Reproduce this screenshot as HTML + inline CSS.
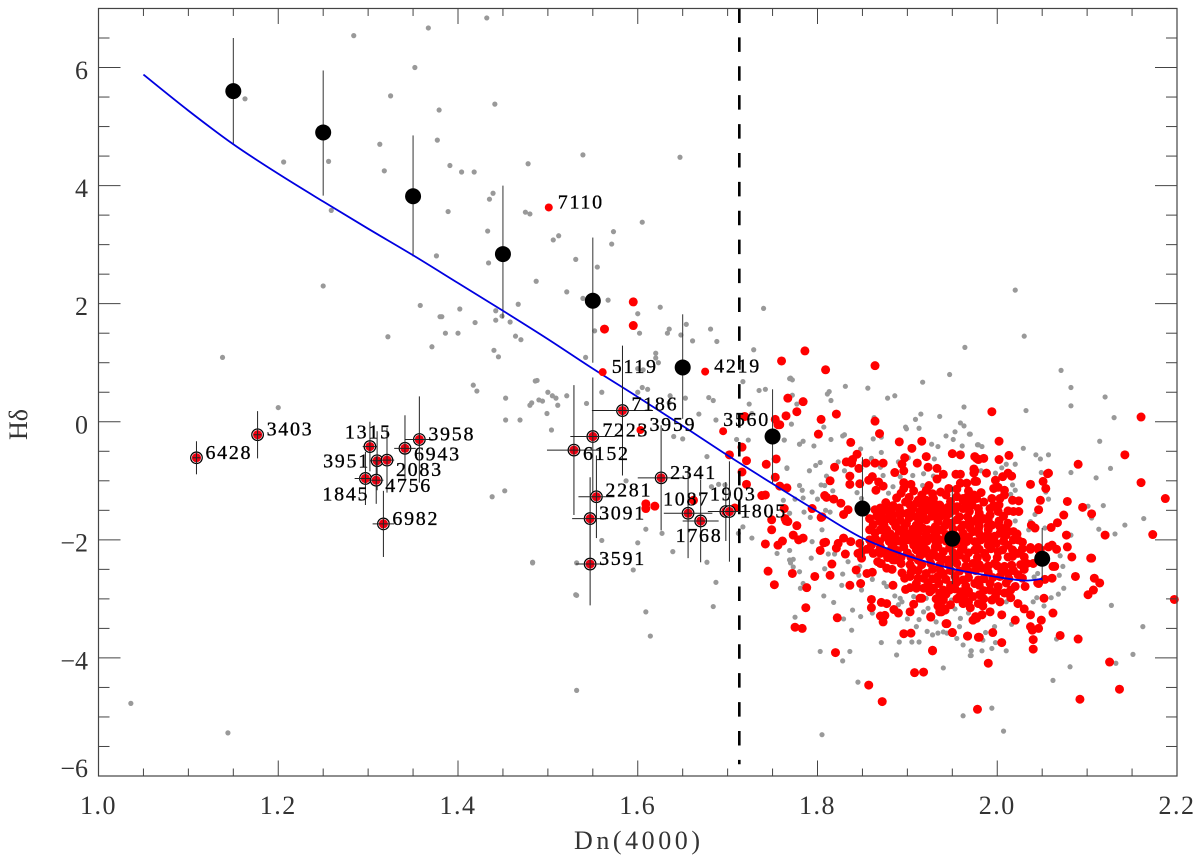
<!DOCTYPE html>
<html lang="en">
<head>
<meta charset="utf-8">
<title>H-delta versus Dn(4000)</title>
<style>
html,body{margin:0;padding:0;background:#fff;}
#chart{display:block;width:1200px;height:858px;}
text{font-family:"Liberation Serif","DejaVu Serif",serif;}
</style>
</head>
<body>
<svg id="chart" xmlns="http://www.w3.org/2000/svg" width="1200" height="858" viewBox="0 0 1200 858">
<rect x="0" y="0" width="1200" height="858" fill="#fff"/>
<g id="gray-layer"></g>
<g id="red-layer"></g>
<g id="bin-layer"></g>
<g id="curve-layer"></g>
<g id="cut-layer"></g>
<g id="galaxy-layer"></g>
<g id="axis-layer"></g>
<text x="574" y="849" font-size="26" fill="#333" textLength="126" lengthAdjust="spacing">Dn(4000)</text>
<text transform="translate(27,440) rotate(-90)" font-size="26" fill="#333">Hδ</text>
</svg>
<script>
// Chart data
const xTickLabels = ["1.0","1.2","1.4","1.6","1.8","2.0","2.2"];
const xTickValues = [1.0,1.2,1.4,1.6,1.8,2.0,2.2];
const yTickLabels = ["−6","−4","−2","0","2","4","6"];
const yTickValues = [-6,-4,-2,0,2,4,6];
const dnCut = [1.713];

const curveDn = [1.05,1.1,1.15,1.2,1.25,1.3,1.35,1.4,1.45,1.5,1.55,1.6,1.65,1.7,1.75,1.8,1.85,1.9,1.95,2.0,2.03,2.05];
const curveHd = [5.88,5.27,4.70,4.20,3.73,3.27,2.82,2.35,1.88,1.40,0.90,0.42,-0.07,-0.57,-1.05,-1.52,-1.97,-2.27,-2.49,-2.63,-2.69,-2.66];

const binDn = [1.15,1.25,1.35,1.45,1.55,1.65,1.75,1.85,1.95,2.05];
const binHd = [5.6,4.9,3.82,2.84,2.05,0.92,-0.25,-1.47,-1.98,-2.32];
const binHi = [6.5,5.95,4.85,4.0,3.12,1.82,0.55,-0.6,-1.1,-1.8];
const binLo = [4.7,3.83,2.8,1.75,1.0,0.05,-1.05,-2.3,-2.75,-2.7];

const galaxyIds = ["6428","3403","1315","3951","2083","6943","3958","1845","4756","6982","7186","7223","6152","2281","3091","3591","2341","1087","1768","1903","1805"];
const galaxyDn = [1.109,1.177,1.302,1.31,1.321,1.341,1.357,1.297,1.309,1.317,1.583,1.55,1.529,1.554,1.547,1.547,1.626,1.656,1.67,1.698,1.702];
const galaxyHd = [-0.61,-0.22,-0.42,-0.66,-0.65,-0.45,-0.30,-0.96,-0.99,-1.73,0.19,-0.25,-0.48,-1.27,-1.64,-2.41,-0.95,-1.55,-1.68,-1.52,-1.52];
const galaxyDnErr = [0.004,0.004,0.008,0.008,0.008,0.012,0.016,0.012,0.008,0.012,0.034,0.025,0.03,0.02,0.02,0.016,0.026,0.027,0.02,0.02,0.023];
const galaxyHdErr = [0.28,0.4,0.42,0.5,0.55,0.56,0.73,0.45,0.4,0.56,1.1,1.0,1.1,0.7,0.7,0.7,0.89,0.76,0.7,0.5,0.85];

const plainIds = ["5119","4219","3959","3560","7110"];
const plainDn = [1.561,1.675,1.603,1.695,1.501];
const plainHd = [0.84,0.85,-0.14,-0.16,3.63];

const grayPoints = [[1.163,5.47],[1.206,4.40],[1.256,4.41],[1.259,3.58],[1.25,2.30],[1.284,6.54],[1.325,5.52],[1.313,4.70],[1.318,4.25],[1.352,6.0],[1.367,6.67],[1.379,5.28],[1.377,4.77],[1.376,2.81],[1.358,1.97],[1.322,1.44],[1.38,1.78],[1.138,1.09],[1.2,0.24],
[1.391,4.34],[1.404,4.23],[1.418,4.23],[1.441,5.38],[1.478,4.37],[1.432,6.84],[1.539,4.52],[1.647,4.48],[1.439,3.87],[1.435,3.77],[1.389,3.56],[1.475,3.55],[1.48,3.52],[1.433,3.23],[1.506,3.08],[1.512,3.15],[1.573,3.22],[1.571,3.01],[1.605,3.38],[1.531,2.75],[1.555,2.62],[1.434,2.69],[1.487,2.38],[1.521,2.2],[1.539,2.09],[1.567,2.06],[1.625,1.94],[1.467,1.99],[1.402,1.91],[1.382,1.78],[1.442,1.88],[1.442,1.72],[1.449,1.79],[1.419,1.68],[1.458,1.69],[1.4,1.5],[1.6,1.83],[1.602,1.5],[1.552,1.54],[1.635,1.57],[1.633,1.5],[1.654,1.65],[1.648,1.47],[1.681,1.57],[1.74,1.92],
[1.386,1.5],[1.371,1.27],[1.464,1.45],[1.47,1.39],[1.44,1.21],[1.445,1.1],[1.417,0.62],[1.421,0.52],[1.486,0.69],[1.453,0.4],[1.469,0.03],[1.48,0.28],[1.49,0.37],[1.509,0.4],[1.453,0.03],[1.511,0.28],[1.5,0.5],[1.438,-1.27],[1.452,-1.17],[1.483,-2.38],[1.532,-4.55],[1.609,-3.22],[1.614,-3.63],[1.532,-2.94],
[1.488,0.7],[1.482,0.32],[1.494,0.35],[1.505,0.44],[1.521,0.44],[1.499,0.14],[1.504,-0.14],[1.543,0.31],[1.542,1.09],[1.56,0.5],[1.62,1.16],[1.623,1.0],[1.62,1.08],[1.606,0.88],[1.6,0.9],[1.605,0.58],[1.611,0.55],[1.6,0.5],[1.636,0.44],[1.653,0.4],[1.635,0.32],[1.679,0.41],[1.684,0.36],[1.668,0.13],[1.64,-0.25],[1.65,-0.29],[1.687,0.03],[1.661,1.37],[1.688,1.36],[1.729,1.22],[1.735,0.53],[1.742,0.55],[1.717,0.68],[1.724,0.3],[1.727,0.14],[1.71,-0.3],[1.723,-0.31],[1.763,-0.31],[1.78,-0.38],[1.766,-0.78],[1.77,0.74],[1.677,-0.59],[1.682,-1.1],[1.69,-1.06],[1.697,-1.07],[1.587,-1.0],[1.627,-1.89],[1.712,-1.89],[1.717,-1.78],[1.727,-1.97],[1.609,-1.82],[1.6,-2.05],[1.56,-2.01],[1.532,-2.39],[1.483,-2.39],[1.595,-2.51],[1.639,-2.2],[1.677,-2.38],[1.687,-2.72],[1.769,-2.34],[1.755,-2.23],[1.77,-2.39],[1.531,-2.93],[1.684,-3.13],
[1.036,-4.77],[1.144,-5.27],[1.805,-5.3],[2.02,2.23],[2.03,1.45],[2.071,0.87],[2.082,0.58],[2.082,0.27],[2.12,0.42],[2.13,0.07],[2.032,0.19],[2.114,-0.33],[2.029,-0.45],[2.043,-0.56],[2.048,-0.63],[2.057,-0.56],[2.126,-0.79],[2.082,-0.86],[2.11,-0.95],[2.118,-1.42],[2.101,-1.43],[2.105,-1.63],[2.163,-1.64],[2.142,-1.75],[2.113,-1.82],[2.131,-1.9],[2.082,-1.92],[2.127,-3.11],[2.162,-3.47],[2.151,-3.94],[2.132,-4.09],[2.081,-4.15],[2.062,-4.38],[1.994,-4.85],[2.007,-5.24],
[2.07,-2.27],[2.073,-2.45],[2.069,-2.6],[2.074,-2.82],[2.068,-2.92],[2.06,-2.98],[2.052,-3.12],[2.044,-2.98],[2.04,-3.05],[2.041,-2.63],[2.045,-2.57],[2.066,-3.68],[2.053,-1.8],[2.035,-1.83],[2.037,-1.69],[2.042,-1.57],[2.057,-1.31],[2.054,-1.19],[2.049,-0.86],[2.02,-0.72],[2.02,-1.16],[2.017,-1.07],[2.015,-1.23],[2.02,-1.68],[1.979,-0.39],[1.983,-0.42],[1.97,-0.21],[2.01,-0.72],[2.005,-0.78],[1.998,-0.87],[1.982,-0.83],[2.01,-3.05],[2.016,-3.43],[1.997,-3.47],[1.987,-3.57],[1.984,-3.7],[1.998,-3.74],[1.994,-3.84],[1.983,-3.88],[1.971,-3.88],[1.971,-3.96],[2.01,-3.88],
[1.964,1.26],[1.947,0.8],[1.917,0.67],[1.831,0.6],[1.856,0.57],[1.769,0.73],[1.772,0.71],[1.772,0.45],[1.813,0.51],[1.811,0.47],[1.815,0.36],[1.878,0.4],[1.886,0.44],[1.963,0.25],[1.915,0.13],[1.909,0.04],[1.936,0.09],[1.959,-0.02],[1.963,-0.07],[1.898,-0.09],[1.899,-0.12],[1.913,-0.11],[1.953,-0.17],[1.969,-0.21],[1.943,-0.24],[1.951,-0.3],[1.863,0.07],[1.871,-0.26],[1.862,-0.29],[1.828,-0.24],[1.83,-0.22],[1.807,-0.09],[1.815,-0.3],[1.771,-0.04],[1.777,0.3],[1.763,-0.31],[1.78,-0.38],[1.784,-0.33],[1.796,-0.41],[1.848,-0.46],[1.871,-0.52],[1.927,-0.38],[1.934,-0.42],[1.961,-0.41],[1.978,-0.39],[1.93,-0.63],[1.89,-0.68],[1.901,-0.61],[1.86,-0.62],[1.823,-0.68],[1.803,-0.69],[1.798,-0.74],[1.791,-0.83],[1.766,-0.79],[1.83,-0.83],[1.87,-0.77],[1.906,-0.91],[1.918,-0.88],[1.892,-0.93],[1.873,-0.91],[1.81,-0.92],[1.804,-1.07],[1.808,-1.08],[1.78,-1.08],[1.783,-1.16],[1.794,-1.19],[1.784,-1.29],[1.8,-1.31],[1.817,-1.17],[1.844,-1.2],[1.849,-1.3],[1.884,-1.1],[1.879,-1.21],[1.917,-1.08],[1.929,-0.92],[1.785,-1.53],[1.769,-1.55],[1.809,-1.5],[1.814,-1.53],[1.792,-1.62],[1.762,-1.33],[1.775,-1.31],
[1.769,-2.18],[1.769,-2.34],[1.773,-2.33],[1.793,-2.31],[1.78,-2.54],[1.773,-2.46],[1.805,-1.83],[1.794,-2.03],[1.781,-2.82],[1.784,-2.74],[1.807,-2.95],[1.818,-3.06],[1.839,-3.19],[1.848,-3.3],[1.829,-3.34],[1.775,-3.31],[1.838,-3.53],[1.871,-3.74],[1.803,-3.89],[1.836,-3.89],[1.828,-4.05],[1.888,-3.95],[1.891,-3.73],[1.905,-3.73],[1.913,-3.73],[1.845,-4.41],[1.94,-4.17],[1.962,-4.98],[1.828,-2.58],[1.827,-2.77],[1.846,-2.6],[1.849,-2.85],[1.861,-2.67],[1.874,-2.73],[1.877,-2.79],[1.886,-2.95],[1.892,-2.99],[1.894,-3.05],[1.89,-3.1],[1.861,-3.24],[1.847,-2.45],[1.834,-2.37],[1.808,-2.49],[1.829,-2.24],[1.819,-2.24],[1.812,-2.24],[1.907,-2.96],[1.9,-3.34],[1.913,-3.35],[1.91,-3.47],[1.922,-3.55],[1.928,-3.61],[1.934,-3.58],[1.94,-3.56],[1.944,-3.58],[1.958,-3.47],[1.959,-3.33],[1.968,-3.24],[1.955,-3.67],[1.962,-3.78],[1.971,-3.88],[1.97,-3.96],[1.932,-3.39],[1.923,-3.16],[1.918,-3.22],[1.953,-3.17],[1.949,-3.02],[1.921,-2.99]];

const redPoints = [[1.786,1.2],[1.76,1.03],[1.809,0.88],[1.864,0.95],[1.767,0.4],[1.784,0.34],[1.777,0.17],[1.765,0.1],[1.821,0.13],[1.804,0.04],[1.758,-0.05],[1.864,0.01],[1.801,-0.21],[1.869,-0.2],[1.837,-0.35],[1.891,-0.34],[1.916,-0.33],[1.905,-0.45],[1.95,-0.54],[1.959,-0.56],[1.975,-0.59],[1.979,-0.64],[1.921,-0.59],[1.897,-0.61],[1.844,-0.55],[1.832,-0.68],[1.838,-0.7],[1.839,-0.64],[1.854,-0.7],[1.864,-0.7],[1.873,-0.7],[1.846,-0.79],[1.819,-0.77],[1.894,-0.72],[1.896,-0.83],[1.886,-0.86],[1.911,-0.7],[1.923,-0.77],[1.933,-0.79],[1.94,-0.89],[1.933,-0.97],[1.954,-0.89],[1.959,-0.89],[1.974,-0.8],[1.974,-0.87],[1.836,-0.92],[1.836,-1.06],[1.814,-1],[1.847,-1.05],[1.861,-0.93],[1.857,-0.99],[1.868,-1.02],[1.873,-1.09],[1.865,-1.16],[1.896,-1.03],[1.904,-1.06],[1.896,-1.13],[1.924,-1.08],[1.921,-1.16],[1.959,-1.04],[1.966,-1.04],[1.975,-1.01],[1.955,-1.14],[1.766,-1.12],[1.758,-1.09],[1.808,-1.25],[1.81,-1.28],[1.818,-1.31],[1.826,-1.38],[1.794,-1.47],[1.834,-1.49],[1.829,-1.57],[1.805,-1.61],[1.763,-1.47],[1.87,-1.46],[1.864,-1.49],[1.884,-1.42],[1.882,-1.52],[1.893,-1.21],[1.902,-1.28],[1.912,-1.33],[1.921,-1.38],[1.937,-1.19],[1.943,-1.24],[1.955,-1.27],[1.962,-1.33],[1.974,-1.24],[1.894,-1.55],[1.904,-1.52],[1.914,-1.52],[1.926,-1.44],[1.936,-1.41],[1.94,-1.49],[1.955,-1.44],[1.962,-1.47],[1.972,-1.41],
[1.765,-1.68],[1.777,-1.76],[1.773,-1.92],[1.779,-2],[1.784,-1.97],[1.761,-2.02],[1.804,-1.62],[1.809,-2.04],[1.803,-2.18],[1.816,-2.41],[1.772,-2.57],[1.797,-2.62],[1.814,-2.6],[1.788,-2.81],[1.787,-3.15],[1.775,-3.48],[1.783,-3.5],[1.822,-3.32],[1.82,-3.91],[1.857,-4.46],[1.872,-4.74],[1.908,-4.25],[1.918,-4.24],[1.928,-3.87],[1.978,-4.87],[1.896,-3.59],[1.904,-3.58],[1.95,-3.57],[1.967,-3.63],[1.979,-3.65],[1.944,-3.42],[1.926,-3.3],[1.973,-3.36],[1.977,-3.33],[1.873,-3.39],[1.87,-3.29],[1.875,-3.28],[1.89,-3.24],[1.885,-3.18],[1.903,-3.22],[1.86,-3.01],[1.86,-3.15],[1.871,-3.06],[1.877,-3.08],[1.907,-3.09],[1.934,-3.12],[1.94,-3.16],[1.936,-3.22],[1.942,-3.19],[1.836,-2.77],[1.848,-2.74],[1.884,-2.77],[1.898,-2.84],[1.903,-2.81],[1.91,-2.82],[1.916,-2.99],[1.918,-2.82],[1.962,-3.08],[1.96,-2.97],[1.843,-2.51],[1.855,-2.57],[1.861,-2.55],[1.849,-2.31],[1.845,-2.23],[1.831,-2.24],[1.821,-2.14],[1.823,-2.06],[1.829,-1.97],[1.837,-2.03],[1.807,-2.05],[1.847,-2.06],[1.867,-2.37],[1.871,-2.4],[1.877,-2.48],[1.883,-2.5],[1.886,-2.34],[1.884,-2.27],[1.87,-2.23],[1.862,-2.23],[1.855,-2.16],[1.905,-2.48],[1.904,-2.55],[1.897,-2.65],[1.918,-2.65],[1.923,-2.74],[1.929,-2.82],[1.936,-2.9],[1.946,-2.85],[1.96,-2.88],
[1.883,-1.47],[1.884,-1.58],[1.871,-1.58],[1.858,-1.64],[1.87,-1.69],[1.884,-1.69],[1.858,-1.83],[1.87,-1.83],[1.877,-1.83],[1.864,-1.97],[1.875,-1.95],[1.886,-1.95],[1.896,-1.8],[1.896,-1.92],[1.907,-1.95],[1.9,-1.55],[1.903,-1.41],[1.91,-1.38],[1.91,-1.61],[1.91,-1.75],[1.921,-1.33],[1.923,-1.49],[1.921,-1.66],[1.934,-1.47],[1.936,-1.61],[1.931,-1.78],[1.923,-1.83],[1.938,-1.83],[1.927,-1.97],[1.915,-2],[1.936,-2],[1.896,-2.03],[1.956,-1.44],[1.962,-1.3],[1.972,-1.33],[1.947,-1.55],[1.958,-1.61],[1.969,-1.52],[1.949,-1.72],[1.962,-1.75],[1.973,-1.69],[1.962,-1.89],[1.973,-1.86],[1.966,-2.03],[1.975,-2.03],[1.884,-2.09],[1.896,-2.12],[1.907,-2.09],[1.918,-2.12],[1.931,-2.12],
[1.86,-2.09],[1.87,-2.12],[1.883,-2.12],[1.849,-2.2],[1.87,-2.4],[1.884,-2.34],[1.905,-2.48],[1.903,-2.62],[1.921,-2.57],[1.923,-2.74],[1.934,-2.62],[1.927,-2.85],[1.94,-2.85],[1.947,-2.85],[1.953,-2.62],[1.958,-2.96],[1.964,-2.93],[1.975,-2.74],[1.973,-2.96],[1.979,-3.08],[1.912,-2.34],[1.918,-2.23],[1.934,-2.29],[1.946,-2.34],[1.958,-2.26],[1.973,-2.4],[1.979,-2.68],[1.934,-2.12],[1.947,-2.14],[1.962,-2.12],[1.975,-2.17],[1.94,-2.57],[1.962,-2.68],[1.914,-2.99],[1.936,-3.16],[1.938,-3.22],[1.926,-3.31],[1.943,-3.42],[1.95,-3.57],[1.967,-3.63],[1.928,-3.88],
[2.002,-0.33],[2.013,-0.57],[2.002,-0.64],[2.09,-0.72],[1.988,-0.87],[2.012,-0.87],[2.006,-0.93],[2.016,-0.92],[2.057,-0.87],[2.051,-1.01],[2.037,-1.06],[1.998,-0.99],[1.996,-1.13],[2.001,-1.11],[2.054,-1.13],[2.008,-1.16],[2.008,-1.24],[2.003,-1.3],[2.002,-1.41],[2.017,-1.33],[2.024,-1.34],[2.048,-1.33],[2.078,-1.35],[2.095,-1.45],[2.105,-1.56],[2.046,-1.49],[2.074,-1.58],[2.067,-1.71],[2.06,-1.79],[2.038,-1.75],[2.042,-1.8],[2.077,-1.92],[2.078,-2.12],[2.061,-2.09],[2.057,-2.12],[2.037,-2.13],[2.046,-2.13],[2.024,-1.52],[2.018,-1.52],[2.012,-1.51],[2.001,-1.52],[1.992,-1.47],[1.979,-1.47],[1.977,-1.3],[1.985,-1.64],[1.994,-1.75],[2.003,-1.78],[2.012,-1.72],[2.018,-1.86],[2.023,-2],[2.012,-2.09],[2.003,-1.89],[1.99,-1.83],[1.979,-1.83],[1.99,-2],[1.999,-2.06],[1.977,-2.06],[1.977,-0.62],[1.985,-0.62],[1.975,-0.83],[1.977,-1.01],
[1.986,-2.23],[1.997,-2.4],[2.008,-2.45],[2.023,-2.23],[2.033,-2.4],[2.064,-2.45],[2.083,-2.29],[2.105,-2.31],[2.087,-2.62],[2.108,-2.65],[2.101,-2.93],[2.107,-2.85],[2.061,-2.65],[2.053,-2.67],[2.046,-2.74],[2.031,-2.79],[2.02,-2.79],[2.008,-2.9],[1.994,-3.02],[2.003,-3.05],[2.023,-3.08],[2.03,-3.17],[2.052,-2.99],[2.062,-3.24],[2.037,-3.27],[2.049,-3.36],[2.046,-3.5],[2.037,-3.47],[2.039,-3.53],[2.02,-3.36],[2.005,-3.27],[1.992,-3.22],[1.983,-3.27],[1.976,-3.3],[2.04,-3.69],[2.04,-3.85],[2.07,-3.62],[2.09,-3.68],[1.995,-3.57],[1.98,-3.65],[2.005,-3.74],[2.012,-2.57],[2.003,-2.62],[2.023,-2.59],[1.983,-2.48],[1.992,-2.85],[1.98,-2.93],[2.001,-2.79],[2.037,-2.14],[2.046,-2.17],[2.012,-2.29],[2.001,-2.2],[1.99,-2.09],
[1.994,0.17],[2.16,0.08],[2.142,-0.56],[2.16,-1.03],[2.187,-1.3],[2.173,-1.91],[2.12,-1.92],[2.104,-2.31],[2.114,-2.73],[2.197,-3.01],[2.125,-4.07],[2.136,-4.53],[2.092,-4.7],[1.99,-4.09],[2.056,-0.88],[2.066,-2.16],[2.037,-2.16],[2.048,-2.16],[2.062,-2.45],[2.045,-2.73],
[1.753,0.04],[1.756,-0.05],[1.719,0.09],[1.716,-0.43],[1.721,-0.66],[1.754,-0.63],[1.743,-0.72],[1.702,-0.56],[1.716,-0.85],[1.753,-0.94],[1.721,-1.06],[1.738,-1.25],[1.742,-1.24],[1.708,-1.46],[1.749,-1.66],[1.764,-1.64],[1.767,-1.69],[1.749,-1.83],[1.742,-2.07],[1.756,-2.09],[1.745,-2.53],[1.752,-2.76],[1.609,-1.39],[1.609,-1.47],[1.619,-1.43],[1.662,-1.33],[1.595,2.03],[1.595,1.63],[1.563,1.57]];

const redCorePoints = [[1.907,-1.17],[1.916,-1.24],[1.928,-1.22],[1.946,-1.13],[1.968,-1.17],[1.982,-1.2],[1.888,-1.29],[1.898,-1.36],[1.929,-1.3],[1.948,-1.35],[1.967,-1.27],[1.985,-1.36],[1.994,-1.3],[1.876,-1.37],[1.891,-1.46],[1.917,-1.44],[1.93,-1.39],[1.945,-1.45],[1.968,-1.4],[1.98,-1.55],[1.996,-1.42],[1.877,-1.5],[1.891,-1.56],[1.906,-1.46],[1.917,-1.58],[1.93,-1.53],[1.943,-1.6],[1.953,-1.5],[1.967,-1.61],[1.978,-1.63],[1.992,-1.58],[2.007,-1.6],[1.866,-1.6],[1.878,-1.64],[1.892,-1.67],[1.902,-1.63],[1.914,-1.68],[1.927,-1.6],[1.934,-1.69],[1.944,-1.7],[1.955,-1.66],[1.968,-1.72],[1.98,-1.7],[1.99,-1.67],[2.002,-1.68],[1.862,-1.74],[1.874,-1.75],[1.887,-1.77],[1.899,-1.72],[1.906,-1.82],[1.917,-1.8],[1.93,-1.85],[1.942,-1.76],[1.951,-1.82],[1.96,-1.8],[1.97,-1.8],[1.98,-1.77],[1.99,-1.76],[2.01,-1.8],[1.864,-1.88],[1.881,-1.9],[1.891,-1.85],[1.902,-1.9],[1.912,-1.88],[1.921,-1.92],[1.932,-1.93],[1.943,-1.91],[1.953,-1.93],[1.968,-1.95],[1.98,-1.9],[1.989,-1.92],[1.997,-1.94],[2.01,-1.92],[2.022,-1.9],[1.858,-2.0],[1.869,-2.03],[1.88,-2.03],[1.891,-2.02],[1.902,-2.0],[1.912,-2.04],[1.922,-2.02],[1.932,-2.05],[1.943,-2.02],[1.953,-2.07],[1.96,-2.0],[1.982,-2.0],[1.992,-2.06],[2.007,-2.02],[2.018,-2.0],[2.028,-2.04],[1.868,-2.2],[1.878,-2.2],[1.889,-2.18],[1.9,-2.22],[1.91,-2.17],[1.921,-2.17],[1.929,-2.22],[1.94,-2.2],[1.951,-2.22],[1.96,-2.17],[1.968,-2.22],[1.98,-2.16],[1.993,-2.15],[2.006,-2.17],[2.017,-2.17],[2.028,-2.15],[1.878,-2.3],[1.893,-2.3],[1.904,-2.3],[1.914,-2.27],[1.925,-2.3],[1.94,-2.33],[1.952,-2.3],[1.965,-2.32],[1.978,-2.3],[1.988,-2.3],[2.0,-2.3],[2.017,-2.28],[2.03,-2.29],[1.893,-2.4],[1.903,-2.42],[1.916,-2.42],[1.926,-2.4],[1.936,-2.43],[1.946,-2.42],[1.955,-2.4],[1.965,-2.45],[1.98,-2.42],[1.99,-2.44],[2.0,-2.44],[2.016,-2.43],[2.026,-2.42],[2.04,-2.4],[1.894,-2.56],[1.912,-2.52],[1.928,-2.5],[1.937,-2.53],[1.948,-2.52],[1.958,-2.53],[1.968,-2.53],[1.976,-2.52],[1.99,-2.55],[2.005,-2.53],[2.018,-2.52],[2.03,-2.5],[1.912,-2.65],[1.928,-2.66],[1.943,-2.67],[1.955,-2.72],[1.968,-2.64],[1.985,-2.66],[1.995,-2.64],[2.013,-2.66],[2.028,-2.65],[1.91,-2.74],[1.935,-2.74],[1.948,-2.77],[1.965,-2.78],[1.98,-2.77],[1.992,-2.74],[2.01,-2.73],[1.925,-2.88],[1.943,-2.92],[1.953,-2.83],[1.968,-2.87],[1.985,-2.86],[2.0,-2.88],[2.015,-2.85],[1.932,-3.0],[1.94,-3.02],[1.955,-3.0],[1.968,-3.05],[1.985,-3.0],[1.998,-2.96],[2.015,-2.98],[1.948,-3.1],[1.97,-3.15],[1.984,-3.12]];

// Axis functions
const SVG_NS = "http://www.w3.org/2000/svg";
const xScale = v => 98.5 + (v - 1) * 898.75;
const yScale = v => 776 - (v + 6) * 59.04;
const layer = id => document.getElementById(id);

function mk(tag, parent, attrs) {
  const el = document.createElementNS(SVG_NS, tag);
  for (const k in attrs) el.setAttribute(k, attrs[k]);
  parent.appendChild(el);
  return el;
}

// Scatter
grayPoints.forEach(p => {
  const el = mk("circle", layer("gray-layer"), {cx: xScale(p[0]), cy: yScale(p[1]), r: 2.6, fill: "#999"});
  
  
});
redPoints.concat(redCorePoints).forEach(p => {
  const el = mk("circle", layer("red-layer"), {cx: xScale(p[0]), cy: yScale(p[1]), r: 4.5, fill: "#f00"});
  
  
});

// Binned means
binDn.forEach((x, i) => {
  const bar = mk("line", layer("bin-layer"), {x1: xScale(x), x2: xScale(x), y1: yScale(binHi[i]), y2: yScale(binLo[i]), stroke: "#333", "stroke-width": 1});
  
  
  const dot = mk("circle", layer("bin-layer"), {cx: xScale(x), cy: yScale(binHd[i]), r: 8, fill: "#000"});
  
  
});

// Model curve (smooth path through the curve values)
const cx = curveDn.map(xScale), cy = curveHd.map(yScale);
let curvePath = "M" + cx[0] + " " + cy[0];
for (let i = 0; i < cx.length - 1; i++) {
  const a = Math.max(i - 1, 0), d = Math.min(i + 2, cx.length - 1);
  curvePath += " C" + (cx[i] + (cx[i + 1] - cx[a]) / 6) + " " + (cy[i] + (cy[i + 1] - cy[a]) / 6) + " "
    + (cx[i + 1] - (cx[d] - cx[i]) / 6) + " " + (cy[i + 1] - (cy[d] - cy[i]) / 6) + " " + cx[i + 1] + " " + cy[i + 1];
}
const curve = mk("path", layer("curve-layer"), {d: curvePath, fill: "none", stroke: "#0000e0", "stroke-width": 1.8, "stroke-linejoin": "round"});



// Vertical cut
const cut = mk("line", layer("cut-layer"), {
  x1: xScale(dnCut[0]), x2: xScale(dnCut[0]), y1: yScale(7), y2: yScale(-5.8),
  stroke: "#000", "stroke-width": 2.6, "stroke-dasharray": "14.5 14.4"
});



// Label placement relative to each marker, keyed by galaxy id
const labelNudge = {
  "6428":[9,1],"3403":[9,1],"1315":[-25,-8],"3951":[-54,7],"2083":[9,16],"6943":[9,12],"3958":[9,1],
  "1845":[-43,22],"4756":[9,12],"6982":[9,1],"7186":[9,0],"7223":[9.5,0],"6152":[9,10],"2281":[9,0],
  "3091":[9,1],"3591":[9,1],"2341":[9,1],"1087":[-25,-8],"1768":[-25,21],"1903":[-16,-11],"1805":[10.7,6],
  "5119":[9,1],"4219":[9,1],"3959":[9,1],"3560":[0,-5],"7110":[9,1]
};
function addLabel(id, x, y) {
  const n = labelNudge[id];
  const t = mk("text", layer("galaxy-layer"), {x: xScale(x) + n[0], y: yScale(y) + n[1], "font-size": 20, fill: "#000", stroke: "#000", "stroke-width": 0.3, "letter-spacing": 1.7});
  t.textContent = id;
  
  
}

// Labelled galaxies
plainIds.forEach((id, i) => {
  const dot = mk("circle", layer("galaxy-layer"), {cx: xScale(plainDn[i]), cy: yScale(plainHd[i]), r: 4, fill: "#f00"});
  
  
  addLabel(id, plainDn[i], plainHd[i]);
});
galaxyIds.forEach((id, i) => {
  const x = galaxyDn[i], y = galaxyHd[i];
  const ring = mk("circle", layer("galaxy-layer"), {cx: xScale(x), cy: yScale(y), r: 5.8, fill: "#fff", stroke: "#000", "stroke-width": 1.2});
  
  
  const core = mk("circle", layer("galaxy-layer"), {cx: xScale(x), cy: yScale(y), r: 4.6, fill: "#ee0011"});
  
  
  const v = mk("line", layer("galaxy-layer"), {x1: xScale(x), x2: xScale(x), y1: yScale(y + galaxyHdErr[i]), y2: yScale(y - galaxyHdErr[i]), stroke: "#222", "stroke-width": 1});
  
  
  const h = mk("line", layer("galaxy-layer"), {x1: xScale(x - galaxyDnErr[i]), x2: xScale(x + galaxyDnErr[i]), y1: yScale(y), y2: yScale(y), stroke: "#222", "stroke-width": 1});
  
  
  addLabel(id, x, y);
});

// Axes
const axisStroke = "#444";
const frame = mk("rect", layer("axis-layer"), {x: xScale(1), y: yScale(7), width: xScale(2.2) - xScale(1), height: yScale(-6) - yScale(7), fill: "none", stroke: axisStroke, "stroke-width": 1.2});



for (let k = 0; k <= 24; k++) {
  const v = 1 + k * 0.05;
  const major = k % 4 === 0;
  const len = major ? 15.5 : 7.5;
  const px = xScale(v);
  const b = mk("line", layer("axis-layer"), {x1: px, x2: px, y1: yScale(-6), y2: yScale(-6) - len, stroke: axisStroke, "stroke-width": 1});
  
  
  const t = mk("line", layer("axis-layer"), {x1: px, x2: px, y1: yScale(7), y2: yScale(7) + len, stroke: axisStroke, "stroke-width": 1});
  
  
}
for (let k = 0; k <= 26; k++) {
  const v = -6 + k * 0.5;
  const major = k % 4 === 0;
  const len = major ? 22 : 11;
  const py = yScale(v);
  const l = mk("line", layer("axis-layer"), {x1: xScale(1), x2: xScale(1) + len, y1: py, y2: py, stroke: axisStroke, "stroke-width": 1});
  
  
  const r = mk("line", layer("axis-layer"), {x1: xScale(2.2), x2: xScale(2.2) - len, y1: py, y2: py, stroke: axisStroke, "stroke-width": 1});
  
  
}
xTickValues.forEach((v, i) => {
  const t = mk("text", layer("axis-layer"), {x: xScale(v), y: 814, "font-size": 26, fill: "#333", "text-anchor": "middle", "letter-spacing": 1.5});
  t.textContent = xTickLabels[i];
  
  
});
yTickValues.forEach((v, i) => {
  const base = v === -6 ? yScale(v) + 1 : yScale(v) + 11.5;
  const t = mk("text", layer("axis-layer"), {x: 88, y: base, "font-size": 26, fill: "#333", "text-anchor": "end"});
  t.textContent = yTickLabels[i];
  
  
});
</script>
</body>
</html>
